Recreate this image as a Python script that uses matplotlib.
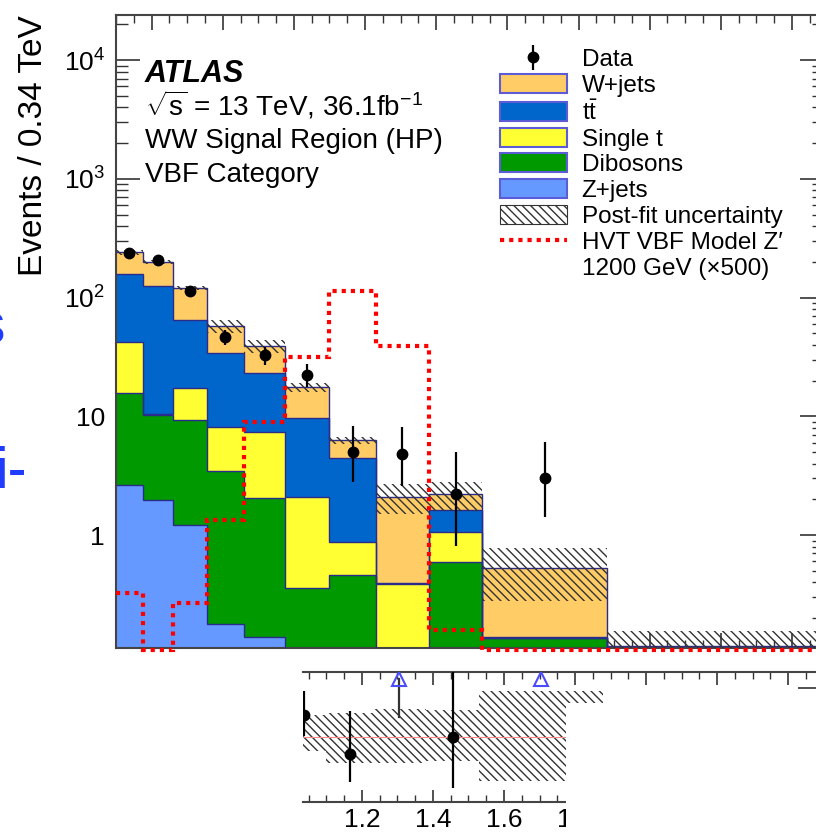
import numpy as np
import matplotlib
matplotlib.use("Agg")
import matplotlib.pyplot as plt
from matplotlib.patches import Patch, Rectangle
from matplotlib.lines import Line2D
from matplotlib.ticker import (MultipleLocator, LogLocator, FixedLocator,
                               NullFormatter, FuncFormatter)

plt.rcParams['font.family'] = ['Liberation Sans', 'DejaVu Sans']
plt.rcParams['mathtext.fontset'] = 'custom'
plt.rcParams['mathtext.rm'] = 'Liberation Sans'
plt.rcParams['mathtext.it'] = 'Liberation Sans:italic'
plt.rcParams['mathtext.bf'] = 'Liberation Sans:bold'
plt.rcParams['hatch.linewidth'] = 1.0

# m(WW) bins [TeV]
edges = np.array([0.5, 0.575, 0.66, 0.755, 0.86, 0.975, 1.1, 1.23, 1.38,
                  1.53, 1.88, 2.6])

# background yields per bin, stacked bottom to top
zjets = [2.64, 1.97, 1.21, 0.18, 0.138, 0.05, 0.05, 0.01, 0.03, 0.01, 0.005]
diboson = [13.1, 8.33, 8.1, 3.28, 1.91, 0.31, 0.41, 0.04, 0.56, 0.126, 0.015]
single_t = [26.5, 0.2, 8.0, 4.64, 5.35, 1.73, 0.41, 0.337, 0.47, 0.001, 0.01]
ttbar = [115.8, 114.5, 47.4, 26.0, 15.7, 7.6, 3.58, 0.005, 0.56, 0.001, 0.01]
wjets = [84.0, 74.0, 55.3, 23.4, 15.9, 7.9, 1.85, 1.70, 0.59, 0.389, 0.076]
bkg_unc = [12.0, 8.0, 5.0, 7.0, 4.9, 1.4, 0.4, 0.6, 0.6, 0.25, 0.04]

data = [237, 207, 113, 46.5, 32.8, 22.3, 5.0, 4.8, 2.21, 3.02, np.nan]
data_up = [15.4, 14.4, 10.6, 6.8, 5.7, 5.2, 3.3, 3.4, 2.8, 3.1, np.nan]
data_down = [15.4, 14.4, 10.6, 6.8, 5.7, 4.6, 2.2, 2.2, 1.4, 1.6, np.nan]

# HVT VBF Z' 1200 GeV (x500)
signal = [0.325, 0.108, 0.268, 1.34, 8.95, 31.6, 113, 39.1, 0.158, 0.108, 0.108]

# post-fit band in the ratio panel
ratio_band_lo = [0.95, 0.95, 0.95, 0.88, 0.88, 0.83, 0.68, 0.68, 0.71, 0.46, 0.65]
ratio_band_hi = [1.05, 1.05, 1.05, 1.12, 1.12, 1.27, 1.29, 1.35, 1.33, 1.57, 1.35]

colors = {'Z+jets': '#6699ff', 'Dibosons': '#009900', 'Single t': '#ffff33',
          'ttbar': '#0066cc', 'W+jets': '#ffcc66'}
edge_col = '#2b2b8c'
hatch = '\\\\\\\\'

fig = plt.figure(figsize=(8.16, 8.33), dpi=100)
ax = fig.add_axes([116/816, 1-648/833, 708/816, 633/833])

# Stacked backgrounds
layers = [(zjets, 'Z+jets'), (diboson, 'Dibosons'), (single_t, 'Single t'),
          (ttbar, 'ttbar'), (wjets, 'W+jets')]
nb = len(zjets)
base = np.full(nb, 1e-3)
cum = np.zeros(nb)
patches = {}
for vals, name in layers:
    cum = cum + np.array(vals)
    ax.stairs(cum, edges, baseline=base, fill=True, color=colors[name], zorder=2)
    ax.stairs(cum, edges, baseline=None, color=edge_col, lw=1, zorder=3)
    patches[name] = Patch(facecolor=colors[name], edgecolor='#5c5cd6', lw=1.5)
    base = cum.copy()
total = cum
unc = np.array(bkg_unc)

ax.bar(edges[:-1], 2*unc, bottom=total-unc, width=np.diff(edges), align='edge',
       fill=False, hatch=hatch, edgecolor='#333333', lw=0, zorder=4)

# Signal
ax.stairs(signal, edges, baseline=None, color='red', ls=(0, (1, 1.2)), lw=3,
          zorder=5, clip_on=False)

# Data
centers = 0.5*(edges[1:] + edges[:-1])
data = np.array(data, dtype=float)
dup = np.array(data_up, dtype=float)
ddn = np.array(data_down, dtype=float)
eb = ax.errorbar(centers, data, yerr=[ddn, dup], fmt='o', color='black',
                 ms=7.5, elinewidth=1.6, capsize=0, zorder=6)

ax.set_yscale('log')
ax.set_xlim(0.5, 2.49)
ax.set_ylim(0.112, 2.4e4)
ax.xaxis.set_major_locator(MultipleLocator(0.2))
ax.xaxis.set_minor_locator(MultipleLocator(0.05))
ax.yaxis.set_major_locator(FixedLocator([1, 10, 100, 1000, 10000]))
ax.yaxis.set_minor_locator(LogLocator(base=10, subs=np.arange(2, 10)))
ax.yaxis.set_minor_formatter(NullFormatter())


def yfmt(v, pos):
    if v <= 10:
        return '%g' % v
    return r'$10^{%d}$' % round(np.log10(v))


ax.yaxis.set_major_formatter(FuncFormatter(yfmt))
ax.tick_params(which='both', direction='in', top=True, right=True,
               labelbottom=False, color='#333333')
ax.tick_params(axis='y', which='major', length=17, width=1.2, labelsize=19, pad=8)
ax.tick_params(axis='y', which='minor', length=8.5, width=1.0)
ax.tick_params(axis='x', which='major', length=11, width=1.2)
ax.tick_params(axis='x', which='minor', length=6, width=1.0)
for s in ax.spines.values():
    s.set_linewidth(1.5)
    s.set_color('#444444')

ax.set_ylabel('Events / 0.34 TeV', fontsize=24, loc='top')
ax.yaxis.set_label_coords(-0.094, 1.0)

ax.text(0.041, 0.894, 'ATLAS', fontsize=22, fontweight='bold',
        fontstyle='italic', transform=ax.transAxes)
ax.text(0.041, 0.842, r'$\sqrt{\mathrm{s}}$ = 13 TeV, 36.1fb$^{-1}$',
        fontsize=20, transform=ax.transAxes)
ax.text(0.041, 0.790, 'WW Signal Region (HP)', fontsize=20, transform=ax.transAxes)
ax.text(0.041, 0.736, 'VBF Category', fontsize=20, transform=ax.transAxes)

# Legend
hatch_patch = Patch(facecolor='white', edgecolor='#333333', hatch=hatch, lw=0.8)
sig_handle = Line2D([], [], color='red', ls=(0, (1, 1.2)), lw=3)
blank = Line2D([], [], alpha=0)
handles = [eb, patches['W+jets'], patches['ttbar'], patches['Single t'],
           patches['Dibosons'], patches['Z+jets'], hatch_patch, sig_handle, blank]
labels = ['Data', 'W+jets', r'$\mathrm{t\bar{t}}$', 'Single t', 'Dibosons',
          'Z+jets', 'Post-fit uncertainty', 'HVT VBF Model Z\u2032',
          '1200 GeV (\u00d7500)']
ax.legend(handles, labels, loc='upper left', bbox_to_anchor=(0.542, 0.947),
          frameon=False, fontsize=17.5, handlelength=2.75, handleheight=0.82,
          handletextpad=0.62, labelspacing=0.12, borderpad=0, borderaxespad=0)

# Ratio panel
rax = fig.add_axes([303/816, 1-802/833, 521/816, 130/833])
rax.set_xlim(1.034, 2.501)
rax.set_ylim(0.2, 1.8)
lo = np.array(ratio_band_lo)
hi = np.array(ratio_band_hi)
rax.bar(edges[:-1], hi-lo, bottom=lo, width=np.diff(edges), align='edge',
        fill=False, hatch=hatch, edgecolor='#333333', lw=0, zorder=2)
rax.axhline(1, color='#ff8888', lw=0.8, zorder=3)

ratio = data / total
r_up = (data + dup) / total
r_dn = (data - ddn) / total
ok = ~np.isnan(ratio)
inside = ok & (ratio <= 1.8)
over = ok & (ratio > 1.8)
rax.errorbar(centers[inside], ratio[inside],
             yerr=[ratio[inside]-r_dn[inside], r_up[inside]-ratio[inside]],
             fmt='o', color='black', ms=7.5, elinewidth=1.6, capsize=0, zorder=5)
arrow_y = 1.72
for c, rd in zip(centers[over], r_dn[over]):
    if rd < arrow_y:
        rax.plot([c, c], [rd, arrow_y], color='#333333', lw=1.6, zorder=4)
rax.plot(centers[over], np.full(over.sum(), arrow_y), ls='none', marker='^',
         ms=10, mfc='none', mec='#4b4bff', mew=1.5, zorder=6)

rax.xaxis.set_major_locator(MultipleLocator(0.2))
rax.xaxis.set_minor_locator(MultipleLocator(0.05))
rax.yaxis.set_major_locator(FixedLocator([0.4, 1.0, 1.6]))
rax.tick_params(which='both', direction='in', top=True, right=True, left=False,
                labelleft=False, color='#333333')
rax.tick_params(axis='x', which='major', length=9, width=1.2, labelsize=19, pad=4)
rax.tick_params(axis='x', which='minor', length=5, width=1.0)
rax.tick_params(axis='y', which='major', length=19, width=1.2)
rax.spines['left'].set_visible(False)
for s in ['top', 'bottom', 'right']:
    rax.spines[s].set_linewidth(1.5)
    rax.spines[s].set_color('#444444')

# the ratio panel is cut off at the lower right in the reference
fig.add_artist(Rectangle((566/816, 0), 1-566/816, 1-703/833,
                         transform=fig.transFigure, facecolor='white',
                         edgecolor='none', zorder=10))

# page text fragments at the left edge
fig.text(5/816, 1-343/833, 's', ha='right', va='baseline', fontsize=41,
         color='#1f3cff')
fig.text(-5/816, 1-488/833, 'i-', ha='left', va='baseline', fontsize=41,
         color='#1f3cff')

fig.savefig('out.png', dpi=100)
